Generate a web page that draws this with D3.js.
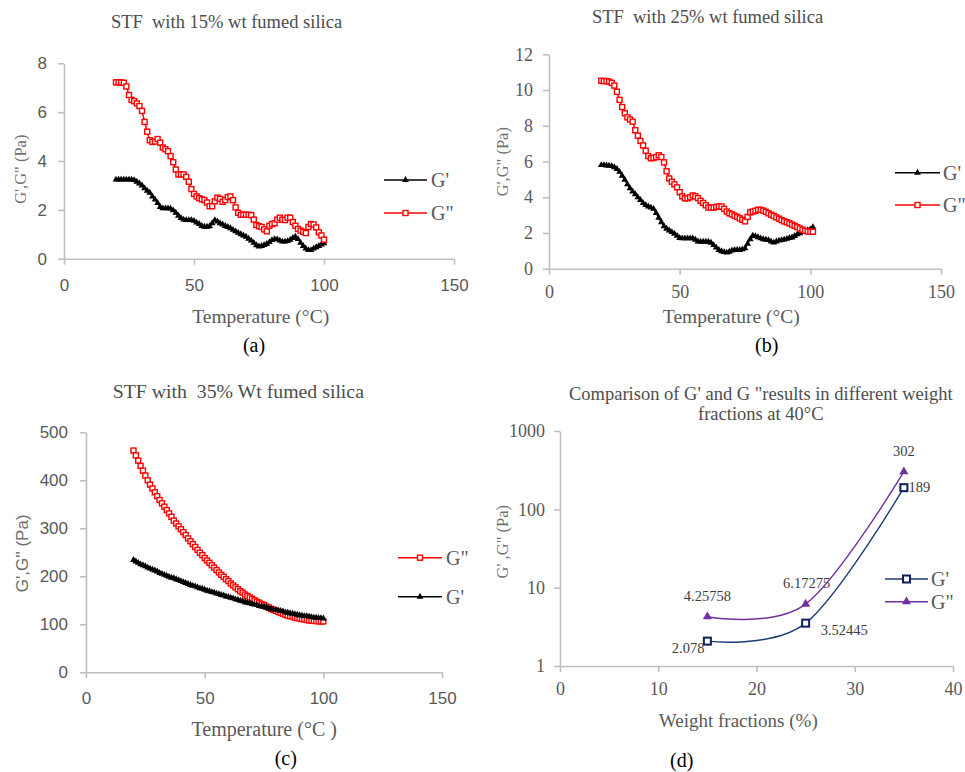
<!DOCTYPE html>
<html><head><meta charset="utf-8">
<script src="https://cdn.jsdelivr.net/npm/d3@7"></script>
<style>body{margin:0;background:#fff}svg{display:block}text{white-space:pre}</style>
</head><body><svg id="c" width="965" height="772"></svg>
<script>
// ---------------- DATA ----------------
const tempsAC = [20,21,22,23,24,25,26,27,28,29,30,31,32,33,34,35,36,37,38,39,40,41,42,43,44,45,46,47,48,49,50,51,52,53,54,55,56,57,58,59,60,61,62,63,64,65,66,67,68,69,70,71,72,73,74,75,76,77,78,79,80,81,82,83,84,85,86,87,88,89,90,91,92,93,94,95,96,97,98,99,100];
const tempsB = [20,21,22,23,24,25,26,27,28,29,30,31,32,33,34,35,36,37,38,39,40,41,42,43,44,45,46,47,48,49,50,51,52,53,54,55,56,57,58,59,60,61,62,63,64,65,66,67,68,69,70,71,72,73,74,75,76,77,78,79,80,81,82,83,84,85,86,87,88,89,90,91,92,93,94,95,96,97,98,99,100,101];

// (a) 15% wt
const gPrimeA = [3.24,3.24,3.24,3.24,3.24,3.24,3.24,3.22,3.15,3.08,
  3.0,2.88,2.78,2.7,2.55,2.42,2.28,2.12,2.06,2.06,
  2.06,2.05,1.98,1.88,1.76,1.66,1.6,1.58,1.58,1.58,
  1.55,1.48,1.42,1.34,1.31,1.31,1.33,1.45,1.58,1.52,
  1.45,1.4,1.34,1.3,1.25,1.18,1.12,1.06,1.0,0.95,
  0.9,0.82,0.74,0.65,0.55,0.5,0.52,0.56,0.6,0.68,
  0.76,0.8,0.79,0.74,0.7,0.7,0.72,0.77,0.85,0.9,
  0.8,0.65,0.52,0.42,0.35,0.35,0.42,0.47,0.52,0.58,
  0.63];
const gDoubleA = [7.22,7.22,7.22,7.2,7.05,6.7,6.5,6.45,6.36,6.25,
  6.05,5.6,5.2,4.85,4.78,4.8,4.9,4.75,4.55,4.48,
  4.4,4.2,3.95,3.65,3.45,3.45,3.45,3.35,3.15,2.85,
  2.65,2.55,2.48,2.43,2.4,2.3,2.15,2.15,2.35,2.5,
  2.45,2.33,2.4,2.52,2.55,2.4,2.1,1.88,1.8,1.8,
  1.8,1.8,1.78,1.6,1.38,1.33,1.3,1.2,1.12,1.35,
  1.42,1.45,1.6,1.68,1.6,1.58,1.68,1.68,1.5,1.35,
  1.22,1.15,1.1,1.05,1.3,1.42,1.4,1.28,1.08,0.95,
  0.78];

// (b) 25% wt
const gPrimeB = [5.8,5.8,5.78,5.76,5.74,5.68,5.58,5.42,5.2,4.98,
  4.72,4.5,4.32,4.17,4.0,3.85,3.68,3.56,3.48,3.42,
  3.35,3.12,2.85,2.6,2.38,2.24,2.14,2.05,1.96,1.84,
  1.72,1.7,1.7,1.7,1.7,1.7,1.62,1.52,1.51,1.51,
  1.51,1.51,1.45,1.32,1.18,1.05,0.98,0.93,0.9,0.95,
  1.02,1.05,1.05,1.05,1.08,1.14,1.4,1.65,1.85,1.82,
  1.76,1.7,1.65,1.62,1.6,1.52,1.46,1.52,1.57,1.6,
  1.63,1.67,1.72,1.75,1.83,1.92,1.98,2.05,2.12,2.16,
  2.2,2.32];
const gDoubleB = [10.52,10.5,10.5,10.47,10.4,10.25,9.9,9.45,9.05,8.7,
  8.47,8.35,8.23,7.75,7.45,7.15,6.9,6.6,6.3,6.18,
  6.2,6.25,6.35,6.25,5.95,5.45,5.05,4.87,4.72,4.55,
  4.28,4.05,3.94,3.94,4.0,4.1,4.05,3.95,3.8,3.68,
  3.55,3.42,3.42,3.42,3.46,3.48,3.48,3.35,3.2,3.1,
  3.04,2.97,2.9,2.82,2.74,2.65,2.9,3.15,3.2,3.24,
  3.3,3.3,3.25,3.18,3.1,3.02,2.95,2.87,2.8,2.72,
  2.65,2.6,2.54,2.47,2.4,2.33,2.25,2.18,2.12,2.08,
  2.07,2.07];

// (c) 35% wt
const gDoubleC = [462,452,441,430,420,410,400,391,383,375,
  367,359,352,345,338,331,324,316,310,304,
  298,292,286,279,273,267,261,255,249,244,
  238,233,228,223,218,213,208,203,199,194,
  190,185,181,177,173,169,166,162,159,156,
  153,150,147,145,142,140,137,135,132,130,
  128,126,124,122,120,118,117,116,114,113,
  112,111,110,109,108,108,107,107,106,106,
  106];
const gPrimeC = [234,231,228,225,223,221,218,216,214,212,
  210,207,205,203,201,199,197,196,194,192,
  190,188,186,184,182,180,179,177,175,174,
  172,170,169,167,166,164,163,161,160,158,
  157,155,154,152,151,149,148,146,145,144,
  142,141,140,138,137,136,135,133,132,131,
  130,129,128,127,125,124,123,122,121,120,
  119,118,117,117,116,115,114,114,113,113,
  112];

// (d) comparison at 40 °C
const weightFractions = [15, 25, 35];
const gPrimeD = [2.078, 3.52445, 189];
const gDoubleD = [4.25758, 6.17275, 302];
const gPrimeDLabels = ["2.078", "3.52445", "189"];
const gDoubleDLabels = ["4.25758", "6.17275", "302"];

// tick values
const tempTicks = [0, 50, 100, 150];
const ticksA = [0, 2, 4, 6, 8];
const ticksB = [0, 2, 4, 6, 8, 10, 12];
const ticksC = [0, 100, 200, 300, 400, 500];
const ticksDx = [0, 10, 20, 30, 40];
const ticksDy = [1, 10, 100, 1000];

// ---------------- DRAWING ----------------
const svg = d3.select("#c");
const SERIF = "'Liberation Serif','Times New Roman',serif";
const SANS = "'Liberation Sans',Arial,sans-serif";
const AXIS = "#bfbfbf", TXT = "#595959", TITLE = "#4d4d4d";

function drawMarkers(g, pts, x, y, s) {
  if (s.marker === "square") {
    const h = s.msize / 2;
    g.append("g").selectAll("rect").data(pts).join("rect")
      .attr("x", d => x(d.t) - h).attr("y", d => y(d.v) - h)
      .attr("width", s.msize).attr("height", s.msize)
      .attr("fill", "#fff").attr("stroke", s.mcolor || s.color).attr("stroke-width", s.mstroke);
  } else {
    const sym = d3.symbol(d3.symbolTriangle, s.msize)();
    g.append("g").selectAll("path").data(pts).join("path")
      .attr("d", sym)
      .attr("transform", d => `translate(${x(d.t)},${y(d.v)})`)
      .attr("fill", s.mcolor || s.color);
  }
}

function text(g, t, x, y, size, font, color, anchor, rotate) {
  const el = g.append("text").text(t)
    .attr("x", x).attr("y", y)
    .style("font-family", font).style("font-size", size + "px")
    .attr("fill", color).attr("text-anchor", anchor || "middle");
  if (rotate) el.attr("transform", `rotate(-90,${x},${y})`);
  return el;
}

function panel(o) {
  const g = svg.append("g");
  const x = d3.scaleLinear().domain(o.xDomain).range([o.left, o.right]);
  const y = (o.log ? d3.scaleLog() : d3.scaleLinear()).domain(o.yDomain).range([o.bottom, o.top]);

  const gx = g.append("g").attr("transform", `translate(0,${o.bottom})`)
    .call(d3.axisBottom(x).tickValues(o.xTicks).tickSizeInner(6).tickSizeOuter(0).tickPadding(o.xPad));
  const yAxis = d3.axisLeft(y).tickValues(o.yTicks).tickSizeInner(6).tickSizeOuter(0).tickPadding(o.yPad);
  if (o.log) yAxis.tickFormat(d3.format("d"));
  const gy = g.append("g").attr("transform", `translate(${o.left},0)`).call(yAxis);
  [gx, gy].forEach(a => {
    a.select(".domain").attr("stroke", AXIS).attr("stroke-width", 1.6);
    a.selectAll(".tick line").attr("stroke", AXIS).attr("stroke-width", 1.6);
    a.selectAll(".tick text").attr("fill", TXT)
      .style("font-family", o.tickFont).style("font-size", o.tickSize + "px");
  });

  o.series.forEach(s => {
    const pts = s.x.map((t, i) => ({ t, v: s.y[i] }));
    g.append("path").datum(pts)
      .attr("d", d3.line().x(d => x(d.t)).y(d => y(d.v)).curve(o.curve || d3.curveLinear))
      .attr("fill", "none").attr("stroke", s.color).attr("stroke-width", s.lw);
    drawMarkers(g, pts, x, y, s);
    if (s.labels) {
      const lg = g.append("g");
      pts.forEach((d, i) => {
        const L = s.labelPos[i];
        text(lg, s.labels[i], x(d.t) + L[0], y(d.v) + L[1], 14.5, SERIF, "#404040", L[2]);
      });
    }
  });

  // legend
  const lg = g.append("g");
  o.legendOrder.forEach((idx, k) => {
    const s = o.series[idx];
    const ly = o.legend.y + k * o.legend.dy;
    lg.append("line").attr("x1", o.legend.x1).attr("x2", o.legend.x2)
      .attr("y1", ly).attr("y2", ly).attr("stroke", s.color).attr("stroke-width", s.lw);
    const mx = (o.legend.x1 + o.legend.x2) / 2;
    const one = [{ t: mx, v: ly }];
    drawMarkers(lg, one, v => v, v => v, Object.assign({}, s, { msize: s.legendMsize || s.msize }));
    text(lg, s.name, o.legend.tx, ly + 7, 20, SERIF, TXT, "start");
  });

  // titles
  o.title.forEach(t => text(g, t[0], t[1], t[2], o.titleSize, SERIF, TITLE));
  text(g, o.xTitle[0], o.xTitle[1], o.xTitle[2], o.xTitleSize, SERIF, TXT);
  text(g, o.yTitle[0], o.yTitle[1], o.yTitle[2], o.yTitleSize, o.yTitleFont, "#6f6f6f", "middle", true);
  text(g, o.tag[0], o.tag[1], o.tag[2], 20, SERIF, "#000");
}

// (a)
panel({
  left: 64, right: 454, top: 63.3, bottom: 258.7,
  xDomain: [0, 150], yDomain: [0, 8], xTicks: tempTicks, yTicks: ticksA,
  tickFont: SANS, tickSize: 17, xPad: 14, yPad: 11,
  series: [
    { name: "G'", x: tempsAC, y: gPrimeA, color: "#000", lw: 1.5, marker: "triangle", msize: 20 },
    { name: 'G"', x: tempsAC, y: gDoubleA, color: "#ff0000", lw: 1.5, marker: "square", msize: 5, mstroke: 1.4 }
  ],
  legendOrder: [0, 1], legend: { x1: 384, x2: 427, y: 180, dy: 33, tx: 431 },
  title: [["STF  with 15% wt fumed silica", 226.5, 28.3]], titleSize: 18.5,
  xTitle: ["Temperature (°C)", 260.7, 323.3], xTitleSize: 19.5,
  yTitle: ["G',G\" (Pa)", 26, 169.2], yTitleSize: 16.5, yTitleFont: SERIF,
  tag: ["(a)", 254, 351.5]
});

// (b)
panel({
  left: 549, right: 941, top: 54.3, bottom: 268.7,
  xDomain: [0, 150], yDomain: [0, 12], xTicks: tempTicks, yTicks: ticksB,
  tickFont: SERIF, tickSize: 18, xPad: 11, yPad: 10,
  series: [
    { name: "G'", x: tempsB, y: gPrimeB, color: "#000", lw: 1.5, marker: "triangle", msize: 20 },
    { name: 'G"', x: tempsB, y: gDoubleB, color: "#ff0000", lw: 1.5, marker: "square", msize: 5, mstroke: 1.4 }
  ],
  legendOrder: [0, 1], legend: { x1: 895, x2: 940, y: 172.7, dy: 32.3, tx: 943 },
  title: [["STF  with 25% wt fumed silica", 707.5, 23.3]], titleSize: 18.5,
  xTitle: ["Temperature (°C)", 731.3, 323.3], xTitleSize: 19.5,
  yTitle: ["G',G\" (Pa)", 508, 161.7], yTitleSize: 16.5, yTitleFont: SERIF,
  tag: ["(b)", 766.7, 351.5]
});

// (c)
panel({
  left: 86, right: 442, top: 432.3, bottom: 672.3,
  xDomain: [0, 150], yDomain: [0, 500], xTicks: tempTicks, yTicks: ticksC,
  tickFont: SANS, tickSize: 17, xPad: 13.5, yPad: 12,
  series: [
    { name: 'G"', x: tempsAC, y: gDoubleC, color: "#ff0000", lw: 1.5, marker: "square", msize: 5, mstroke: 1.4 },
    { name: "G'", x: tempsAC, y: gPrimeC, color: "#000", lw: 1.5, marker: "triangle", msize: 20 }
  ],
  legendOrder: [0, 1], legend: { x1: 398, x2: 442, y: 557.7, dy: 39, tx: 446 },
  title: [["STF with  35% Wt fumed silica", 238.3, 398.3]], titleSize: 19.8,
  xTitle: ["Temperature (°C )", 264.2, 736], xTitleSize: 20,
  yTitle: ["G',G'' (Pa)", 28, 553.3], yTitleSize: 17, yTitleFont: SANS,
  tag: ["(c)", 285.8, 764.5]
});

// (d)
panel({
  left: 560, right: 953, top: 431, bottom: 666, log: true,
  xDomain: [0, 40], yDomain: [1, 1000], xTicks: ticksDx, yTicks: ticksDy,
  tickFont: SERIF, tickSize: 18, xPad: 10, yPad: 9,
  curve: d3.curveCatmullRom.alpha(0),
  series: [
    { name: "G'", x: weightFractions, y: gPrimeD, color: "#1f3a78", mcolor: "#0f2060", lw: 1.4,
      marker: "square", msize: 7, mstroke: 2, legendMsize: 7,
      labels: gPrimeDLabels, labelPos: [[-3, 12, "end"], [15, 12, "start"], [4.5, 4, "start"]] },
    { name: 'G"', x: weightFractions, y: gDoubleD, color: "#7030a0", lw: 1.4,
      marker: "triangle", msize: 36,
      labels: gDoubleDLabels, labelPos: [[0, -15.5, "middle"], [1, -16, "middle"], [0, -16, "middle"]] }
  ],
  legendOrder: [0, 1], legend: { x1: 885, x2: 928, y: 579, dy: 22.7, tx: 931 },
  title: [["Comparison of G' and G \"results in different weight", 760.8, 400],
          ["fractions at 40°C", 760.8, 420]], titleSize: 18.5,
  xTitle: ["Weight fractions (%)", 738.3, 726.7], xTitleSize: 19,
  yTitle: ["G' ,G\" (Pa)", 508, 541.7], yTitleSize: 16.5, yTitleFont: SERIF,
  tag: ["(d)", 681.7, 766.5]
});
</script>
</body></html>
